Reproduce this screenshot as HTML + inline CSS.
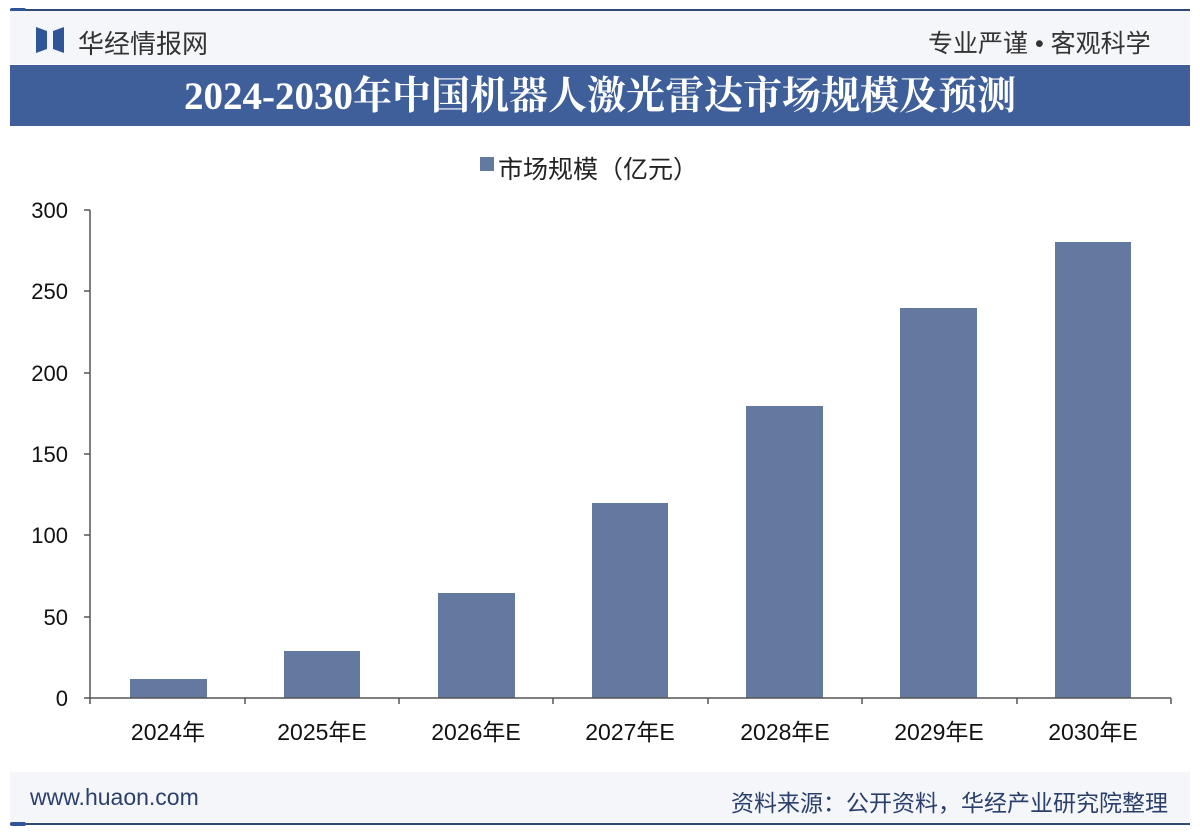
<!DOCTYPE html>
<html><head><meta charset="utf-8"><style>
body{margin:0;width:1200px;height:837px;background:#fff;font-family:"Liberation Sans","Noto Sans CJK SC",sans-serif;position:relative;overflow:hidden}
.a{position:absolute}
</style></head><body>
<div class="a" style="left:10px;top:9px;width:1180px;height:2px;background:#2e4a74"></div>
<div class="a" style="left:10px;top:8px;width:16px;height:4px;background:#2e5597;border-radius:2px"></div>
<div class="a" style="left:10px;top:11px;width:1180px;height:53px;background:#f4f6fa"></div>
<svg class="a" style="left:36px;top:27px" width="28" height="26"><polygon points="0,0 11,4 11,22 0,26" fill="#2e5597"/><polygon points="28,0 17,4 17,22 28,26" fill="#2e5597"/></svg>
<div class="a" style="left:78px;top:24px;font-size:26px;color:#333">华经情报网</div>
<div class="a" style="left:928px;top:24px;font-size:25px;color:#333">专业严谨 • 客观科学</div>
<div class="a" style="left:10px;top:65px;width:1180px;height:61px;background:#3e5f99"></div>
<div class="a" style="left:10px;top:72px;width:1180px;text-align:center;font-family:'Liberation Serif','Noto Serif CJK SC',serif;font-weight:bold;font-size:39px;line-height:50px;color:#fff">2024-2030年中国机器人激光雷达市场规模及预测</div>
<div class="a" style="left:480px;top:157px;width:14px;height:14px;background:#63799f"></div>
<div class="a" style="left:498px;top:150px;font-size:25px;color:#222">市场规模（亿元）</div>
<svg class="a" style="left:0;top:0" width="1200" height="837">
<g fill="#63799f">
<rect x="130" y="679" width="77" height="19"/>
<rect x="284" y="651" width="76" height="47"/>
<rect x="438" y="593" width="77" height="105"/>
<rect x="592" y="503" width="76" height="195"/>
<rect x="746" y="406" width="77" height="292"/>
<rect x="900" y="308" width="77" height="390"/>
<rect x="1055" y="242" width="76" height="456"/>
</g>
<g stroke="#555" stroke-width="1.5">
<line x1="90" y1="210" x2="90" y2="704"/>
<line x1="84" y1="698" x2="1171" y2="698"/>
<line x1="84" y1="210" x2="90" y2="210"/><line x1="84" y1="291" x2="90" y2="291"/><line x1="84" y1="373" x2="90" y2="373"/><line x1="84" y1="454" x2="90" y2="454"/><line x1="84" y1="535" x2="90" y2="535"/><line x1="84" y1="617" x2="90" y2="617"/>
<line x1="245" y1="698" x2="245" y2="704"/><line x1="399" y1="698" x2="399" y2="704"/><line x1="553" y1="698" x2="553" y2="704"/><line x1="708" y1="698" x2="708" y2="704"/><line x1="862" y1="698" x2="862" y2="704"/><line x1="1017" y1="698" x2="1017" y2="704"/><line x1="1171" y1="698" x2="1171" y2="704"/>
</g>
<g font-size="22" fill="#111" text-anchor="end" font-family="Liberation Sans,sans-serif">
<text x="68" y="218">300</text><text x="68" y="299">250</text><text x="68" y="381">200</text><text x="68" y="462">150</text><text x="68" y="543">100</text><text x="68" y="625">50</text><text x="68" y="706">0</text>
</g>
<g font-size="23" fill="#111" text-anchor="middle" font-family="Liberation Sans,Noto Sans CJK SC,sans-serif">
<text x="168" y="740">2024年</text><text x="322" y="740">2025年E</text><text x="476" y="740">2026年E</text><text x="630" y="740">2027年E</text><text x="785" y="740">2028年E</text><text x="939" y="740">2029年E</text><text x="1093" y="740">2030年E</text>
</g>
</svg>
<div class="a" style="left:10px;top:772px;width:1180px;height:50px;background:#f4f6fa"></div>
<div class="a" style="left:30px;top:784px;font-size:23px;color:#2b3f6b">www.huaon.com</div>
<div class="a" style="right:32px;top:784px;font-size:23px;color:#2b3f6b">资料来源：公开资料，华经产业研究院整理</div>
<div class="a" style="left:10px;top:823px;width:1180px;height:2px;background:#2e4a74"></div>
<div class="a" style="left:10px;top:822px;width:16px;height:4px;background:#2e5597;border-radius:2px"></div>
</body></html>
